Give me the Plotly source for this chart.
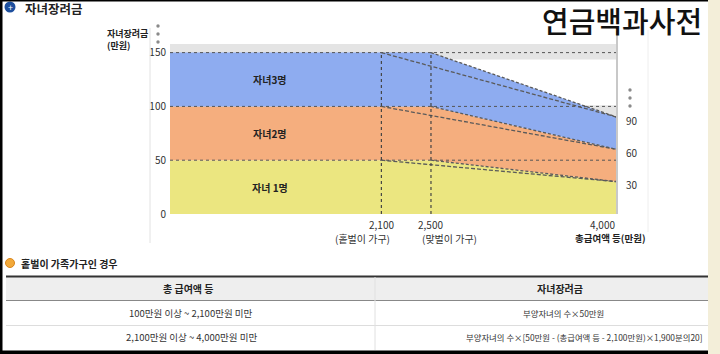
import plotly.graph_objects as go

# ---------------- data ----------------
income_dual = [100, 2500, 4000]          # 맞벌이 기준 (area envelope)
income_single = [2100, 4000]             # 홑벌이 기준
dual_1 = [50, 50, 30]
dual_2 = [100, 100, 60]
dual_3 = [150, 150, 90]
single_1 = [50, 30]
single_2 = [100, 60]
single_3 = [150, 90]
band_labels = ["자녀 1명", "자녀2명", "자녀3명"]
y_ticks = [0, 50, 100, 150]
x_marks = [2100, 2500, 4000]
x_mark_labels = ["2,100", "2,500", "4,000"]
x_mark_sub = ["(홑벌이 가구)", "(맞벌이 가구)", "<b>총급여액 등(만원)</b>"]
table_header = ["총 급여액 등", "자녀장려금"]
table_col1 = ["100만원 이상 ~ 2,100만원 미만", "2,100만원 이상 ~ 4,000만원 미만"]
table_col2 = ["부양자녀의 수×50만원",
              "부양자녀의 수×[50만원 - (총급여액 등 - 2,100만원)×1,900분의20]"]

# ---------------- layout helpers ----------------
W, H = 720, 354
L, R, T, B = 170, 617, 44, 214
def fx(p):
    return (p - L) / (R - L)
def fy(p):
    return (B - p) / (B - T)

FONT = "Noto Sans CJK KR"
fills = ["#ebe680", "#f5ae7e", "#8eacf0"]
duals = [dual_1, dual_2, dual_3]
singles = [single_1, single_2, single_3]

fig = go.Figure()
for k, ys in enumerate(duals):
    fig.add_trace(go.Scatter(x=income_dual, y=ys, mode="lines",
                             line=dict(width=0, color=fills[k]),
                             fill="tozeroy" if k == 0 else "tonexty",
                             fillcolor=fills[k], hoverinfo="skip", showlegend=False))
for ys in duals:
    fig.add_trace(go.Scatter(x=income_dual[1:], y=ys[1:], mode="lines",
                             line=dict(width=1.3, color="#5a5a5a", dash="3px,2px"),
                             hoverinfo="skip", showlegend=False))
for ys in singles:
    fig.add_trace(go.Scatter(x=income_single, y=ys, mode="lines",
                             line=dict(width=1.3, color="#5a5a5a", dash="4px,2px"),
                             hoverinfo="skip", showlegend=False))

shapes = []
# axis-break gray bands (under the areas)
shapes.append(dict(type="rect", xref="paper", yref="y", x0=0, x1=1, y0=143.5, y1=158,
                   fillcolor="#e4e4e4", line=dict(width=0), layer="below"))
shapes.append(dict(type="rect", xref="paper", yref="y", x0=0, x1=1, y0=88, y1=101,
                   fillcolor="#e4e4e4", line=dict(width=0), layer="below"))
# dotted level lines
for v in y_ticks[1:]:
    shapes.append(dict(type="line", xref="paper", yref="y", x0=0, x1=1, y0=v, y1=v,
                       line=dict(color="#555", width=1, dash="dot"), layer="above"))
for v in x_marks[:2]:
    shapes.append(dict(type="line", xref="x", yref="y", x0=v, x1=v, y0=0, y1=max(y_ticks),
                       line=dict(color="#444", width=1.2, dash="dot"), layer="above"))
# frame lines
shapes.append(dict(type="line", xref="paper", yref="paper", x0=fx(150), x1=fx(150),
                   y0=fy(28), y1=fy(243), line=dict(color="#e2e2e2", width=1)))
shapes.append(dict(type="line", xref="paper", yref="paper", x0=fx(617), x1=fx(617),
                   y0=fy(31), y1=fy(214), line=dict(color="#c8c8c8", width=2)))
shapes.append(dict(type="line", xref="paper", yref="paper", x0=fx(648), x1=fx(648),
                   y0=fy(30), y1=fy(232), line=dict(color="#eeeeee", width=1)))
# break dots
def dot(cx, cy, r, color):
    return dict(type="circle", xref="paper", yref="paper", xsizemode="pixel", ysizemode="pixel",
                xanchor=fx(cx), yanchor=fy(cy), x0=-r, x1=r, y0=-r, y1=r,
                fillcolor=color, line=dict(width=0))
for cy in (26, 34, 42):
    shapes.append(dot(158, cy, 1.7, "#8a8a8a"))
for cy in (90, 98, 106):
    shapes.append(dot(630, cy, 1.7, "#8a8a8a"))
# header icons
shapes.append(dot(10, 7, 5.5, "#1d4f9e"))
shapes.append(dict(type="circle", xref="paper", yref="paper", xsizemode="pixel", ysizemode="pixel",
                   xanchor=fx(10), yanchor=fy(263), x0=-4.5, x1=4.5, y0=-4.5, y1=4.5,
                   fillcolor="#f2a93a", line=dict(color="#d9851c", width=1)))
# table
shapes.append(dict(type="rect", xref="paper", yref="paper", x0=fx(6), x1=fx(710),
                   y0=fy(277), y1=fy(300), fillcolor="#eeeeee", line=dict(width=0)))
shapes.append(dict(type="line", xref="paper", yref="paper", x0=fx(6), x1=fx(710),
                   y0=fy(276.5), y1=fy(276.5), line=dict(color="#333", width=2)))
shapes.append(dict(type="line", xref="paper", yref="paper", x0=fx(6), x1=fx(710),
                   y0=fy(300.5), y1=fy(300.5), line=dict(color="#888", width=1)))
shapes.append(dict(type="line", xref="paper", yref="paper", x0=fx(6), x1=fx(710),
                   y0=fy(325.5), y1=fy(325.5), line=dict(color="#dddddd", width=1)))
shapes.append(dict(type="line", xref="paper", yref="paper", x0=fx(375), x1=fx(375),
                   y0=fy(277), y1=fy(350), line=dict(color="#e0e0e0", width=1)))
# outer frame (black border + beige edge)
shapes.append(dict(type="rect", xref="paper", yref="paper", x0=fx(708), x1=fx(721),
                   y0=fy(-1), y1=fy(355), fillcolor="#f3eed9", line=dict(width=0)))
shapes.append(dict(type="rect", xref="paper", yref="paper", x0=fx(-1), x1=fx(2.5),
                   y0=fy(-1), y1=fy(355), fillcolor="#000", line=dict(width=0)))
shapes.append(dict(type="rect", xref="paper", yref="paper", x0=fx(-1), x1=fx(708),
                   y0=fy(350.5), y1=fy(355), fillcolor="#000", line=dict(width=0)))
shapes.append(dict(type="rect", xref="paper", yref="paper", x0=fx(-1), x1=fx(708),
                   y0=fy(-1), y1=fy(1.5), fillcolor="#000", line=dict(width=0)))

ann = []
def A(text, x, y, size, xanchor="center", color="#222", xref="paper", yref="paper",
      weight="normal", **kw):
    ann.append(dict(text=text, x=x, y=y, xref=xref, yref=yref, xanchor=xanchor, yanchor="middle",
                    showarrow=False,
                    font=dict(family=FONT, size=size, color=color, weight=weight), **kw))

# band labels
lowers = [[0] * len(dual_1), dual_1, dual_2]
for lab, lo, up in zip(band_labels, lowers, duals):
    A("<b>" + lab + "</b>", fx(270), (lo[0] + up[0]) / 2, 10, yref="y")
# right end values
for ys in duals:
    A(str(ys[-1]), x_marks[-1], ys[-1], 10, xanchor="left", xref="x", yref="y",
      xshift=7, yshift=-3, color="#333")
# x marks
A(x_mark_labels[0], x_marks[0], fy(224), 10, xref="x", color="#333")
A(x_mark_sub[0], x_marks[0], fy(238), 10, xanchor="right", xref="x", xshift=11, color="#333")
A(x_mark_labels[1], x_marks[1], fy(224), 10, xref="x", color="#333")
A(x_mark_sub[1], x_marks[1], fy(238), 10, xanchor="left", xref="x", xshift=-11, color="#333")
A(x_mark_labels[2], x_marks[2], fy(224), 10, xanchor="right", xref="x", color="#333")
A(x_mark_sub[2], x_marks[2], fy(238), 9.5, xref="x", xshift=-7, color="#222")
# axis title
A("<b>자녀장려금</b><br><b>(만원)</b>", fx(105), fy(39), 9, xanchor="left", align="left")
# headers
A("<b>자녀장려금</b>", fx(23), fy(8), 12.5, xanchor="left", color="#222")
A("+", fx(10), fy(7), 9, color="#ffffff")
A("연금백과사전", fx(704), fy(20), 29, xanchor="right", color="#111", weight=500)
A("<b>홑벌이 가족가구인 경우</b>", fx(19), fy(263), 10, xanchor="left", color="#222")
# table
A("<b>" + table_header[0] + "</b>", fx(188), fy(288.5), 10)
A("<b>" + table_header[1] + "</b>", fx(560), fy(288.5), 10)
for i, (c1, c2) in enumerate(zip(table_col1, table_col2)):
    yy = [313, 337][i]
    A(c1, fx(191), fy(yy), 9.5, color="#333")
    A(c2, fx([563, 584][i]), fy(yy), 8.4, color="#333")

fig.update_layout(
    width=W, height=H,
    margin=dict(l=L, r=W - R, t=T, b=H - B, pad=0),
    paper_bgcolor="white", plot_bgcolor="rgba(0,0,0,0)",
    showlegend=False,
    xaxis=dict(range=[395.5, 4000], visible=False, fixedrange=True),
    yaxis=dict(range=[0, 158], tickvals=y_ticks, showgrid=False, zeroline=False,
               showline=False, ticks="", tickfont=dict(family=FONT, size=10, color="#333"),
               fixedrange=True, ticklabelstandoff=3),
    shapes=shapes, annotations=ann,
)
fig.write_html("out.html")
